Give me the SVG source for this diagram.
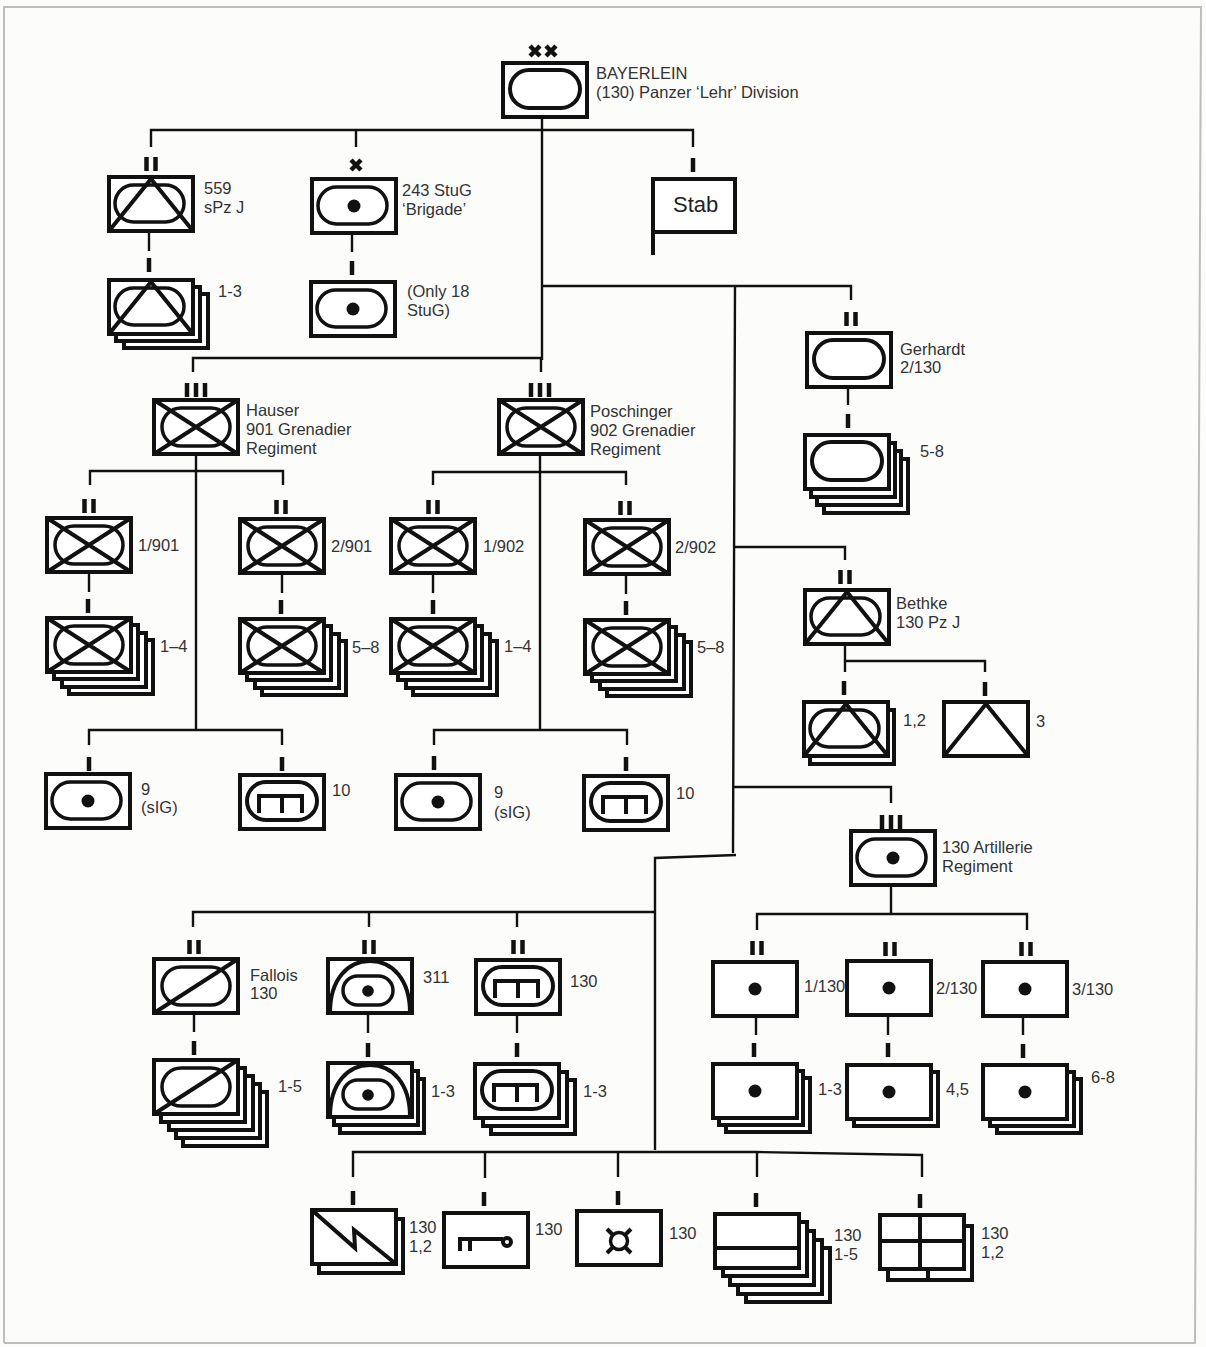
<svg xmlns="http://www.w3.org/2000/svg" width="1206" height="1347" viewBox="0 0 1206 1347">
<style>
.bg{fill:#fcfcfb}
.frame{fill:none;stroke:#bdbdbd;stroke-width:2}
.b{fill:#fff;stroke:#111;stroke-width:4}
.s{fill:none;stroke:#111;stroke-width:4}
.s3{fill:none;stroke:#111;stroke-width:3.5}
.k{fill:#111}
.c{fill:none;stroke:#111;stroke-width:2.4}
.bar{fill:none;stroke:#111;stroke-width:4.5}
text{font-family:"Liberation Sans",Arial,sans-serif;font-size:16.5px;fill:#333}
.stab{font-size:22px;fill:#222}
</style>
<defs>
<rect id="b" class="b" width="84" height="54"/>
<rect id="ov" class="s3" x="6" y="8" width="69" height="37" rx="18.5"/>
<rect id="ovx" class="s3" x="8" y="8" width="68" height="38" rx="19"/>
<rect id="ovb" class="s" x="7" y="7" width="70" height="38" rx="19"/>
<g id="t"><use href="#b"/><path class="s" d="M0 54L42 2L84 54"/></g>
<g id="ot"><use href="#b"/><use href="#ov"/><path class="s" d="M0 54L42 2L84 54"/></g>
<g id="ox"><use href="#b"/><use href="#ovx"/><path class="s" d="M0 0L84 54M0 54L84 0"/></g>
<g id="od"><use href="#b"/><use href="#ov"/><circle class="k" cx="42" cy="27" r="6.5"/></g>
<g id="big"><use href="#b"/><use href="#ovb"/></g>
<g id="d"><use href="#b"/><circle class="k" cx="42" cy="27" r="6.5"/></g>
<g id="m"><use href="#b"/><use href="#ovb"/><path class="s" d="M19 38V21H62V38M42 21V38"/></g>
<g id="f"><use href="#b"/><use href="#ovx"/><path class="s" d="M0 54L84 0"/></g>
<g id="a"><use href="#b"/><path class="s" d="M2 54C2 20 20 2 42 2S82 20 82 54"/><rect class="s3" x="15" y="17" width="50" height="29" rx="14.5"/><circle class="k" cx="40" cy="32" r="5.8"/></g>
<path id="I" class="bar" d="M0 0V14"/>
<path id="II" class="bar" d="M-4.500 0V14M4.500 0V14"/>
<path id="III" class="bar" d="M-9 0V14M0 0V14M9 0V14"/>
<path id="X" class="bar" d="M-5 -5L5 5M-5 5L5 -5"/>
</defs>
<rect class="bg" width="1206" height="1347"/>
<path class="frame" d="M4 1343V7H1201L1195 1343H4"/>
<g id="connectors">
<path class="c" d="M151 147V130H693V147M356 130V147M542 117V360M193 372V358H541V372"/>
<path class="c" d="M149 232V251M352 233V252"/>
<path class="c" d="M542 286H851V300M848 388V405"/>
<path class="c" d="M735 286L733 853M736 855L655 858V1150M193 927V912H655M369 912V927M517 912V927"/>
<path class="c" d="M733 547H845V560M733 787H891V803"/>
<path class="c" d="M845 645V672M845 661H985V672"/>
<path class="c" d="M196 455V730M90 485V471H283V485M89 745V730H282V745"/>
<path class="c" d="M540 456V730M433 485V472H626V485M434 745V730H627V745"/>
<path class="c" d="M89 573V592M282 574V593M433 574V593M626 575V594"/>
<path class="c" d="M891 885V914M757 930V914H1027V930"/>
<path class="c" d="M756 1016V1035M888 1016V1035M1023 1017V1035"/>
<path class="c" d="M194 1014V1032M368 1014V1033M517 1015V1033"/>
<path class="c" d="M353 1177V1152H757L922 1155V1177M485 1152V1178M618 1152V1177M757 1152V1177"/>
<g id="stub-bars">
<use href="#I" x="149" y="258"/><use href="#I" x="352" y="261"/><use href="#I" x="693" y="158"/>
<use href="#I" x="848" y="414"/>
<use href="#I" x="88" y="599"/><use href="#I" x="281" y="600"/><use href="#I" x="433" y="600"/><use href="#I" x="626" y="601"/>
<use href="#I" x="89" y="757"/><use href="#I" x="282" y="757"/><use href="#I" x="434" y="756"/><use href="#I" x="626" y="757"/>
<use href="#I" x="844" y="681"/><use href="#I" x="985" y="682"/>
<use href="#I" x="754" y="1043"/><use href="#I" x="888" y="1043"/><use href="#I" x="1023" y="1044"/>
<use href="#I" x="194" y="1041"/><use href="#I" x="368" y="1043"/><use href="#I" x="517" y="1043"/>
<use href="#I" x="353" y="1191"/><use href="#I" x="484" y="1192"/><use href="#I" x="618" y="1191"/><use href="#I" x="756" y="1193"/><use href="#I" x="920" y="1194"/>
</g>
</g>
<g id="root"><path class="bar" d="M530 46L540 56M530 56L540 46M546 46L556 56M546 56L556 46"/><use href="#big" x="503" y="63"/><text x="596" y="79">BAYERLEIN</text><text x="596" y="98">(130) Panzer ‘Lehr’ Division</text></g>
<g id="n559"><use href="#II" x="151" y="157"/><use href="#ot" x="109" y="177"/><text x="204" y="194">559</text><text x="204" y="213">sPz J</text></g>
<g id="n559c"><use href="#b" x="124" y="294"/><use href="#b" x="116" y="287"/><use href="#ot" x="109" y="280"/><text x="218" y="297">1-3</text></g>
<g id="n243"><use href="#X" x="356" y="165"/><use href="#od" x="312" y="179"/><text x="402" y="196">243 StuG</text><text x="402" y="215">‘Brigade’</text></g>
<g id="n243c"><use href="#od" x="311" y="282"/><text x="407" y="297">(Only 18</text><text x="407" y="316">StuG)</text></g>
<g id="stab"><rect class="b" x="653" y="179" width="82" height="53"/><path class="s" d="M653 232V255"/><text class="stab" x="673" y="212">Stab</text></g>
<g id="gerhardt"><use href="#II" x="851" y="312"/><use href="#big" x="807" y="333"/><text x="900" y="355">Gerhardt</text><text x="900" y="373">2/130</text></g>
<g id="gerhardtc"><use href="#b" x="824" y="459"/><use href="#b" x="817" y="451"/><use href="#b" x="811" y="443"/><use href="#big" x="805" y="435"/><text x="920" y="457">5-8</text></g>
<g id="hauser"><use href="#III" x="196" y="383"/><use href="#ox" x="154" y="400"/><text x="246" y="416">Hauser</text><text x="246" y="435">901 Grenadier</text><text x="246" y="454">Regiment</text></g>
<g id="posch"><use href="#III" x="540" y="383"/><use href="#ox" x="499" y="400"/><text x="590" y="417">Poschinger</text><text x="590" y="436">902 Grenadier</text><text x="590" y="455">Regiment</text></g>
<g id="b1901"><use href="#II" x="89" y="499"/><use href="#ox" x="47" y="518"/><text x="138" y="551">1/901</text></g>
<g id="c1901"><use href="#b" x="69" y="640"/><use href="#b" x="62" y="633"/><use href="#b" x="54" y="625"/><use href="#ox" x="47" y="618"/><text x="160" y="652">1–4</text></g>
<g id="b2901"><use href="#II" x="281" y="500"/><use href="#ox" x="240" y="519"/><text x="331" y="552">2/901</text></g>
<g id="c2901"><use href="#b" x="262" y="641"/><use href="#b" x="255" y="634"/><use href="#b" x="247" y="626"/><use href="#ox" x="240" y="619"/><text x="352" y="653">5–8</text></g>
<g id="b1902"><use href="#II" x="433" y="500"/><use href="#ox" x="391" y="519"/><text x="483" y="552">1/902</text></g>
<g id="c1902"><use href="#b" x="413" y="641"/><use href="#b" x="406" y="634"/><use href="#b" x="398" y="626"/><use href="#ox" x="391" y="619"/><text x="504" y="652">1–4</text></g>
<g id="b2902"><use href="#II" x="625" y="501"/><use href="#ox" x="585" y="520"/><text x="675" y="553">2/902</text></g>
<g id="c2902"><use href="#b" x="607" y="642"/><use href="#b" x="600" y="635"/><use href="#b" x="592" y="627"/><use href="#ox" x="585" y="620"/><text x="697" y="653">5–8</text></g>
<g id="n9a"><use href="#od" x="46" y="774"/><text x="141" y="795">9</text><text x="141" y="813">(sIG)</text></g>
<g id="n10a"><use href="#m" x="240" y="775"/><text x="332" y="796">10</text></g>
<g id="n9b"><use href="#od" x="396" y="775"/><text x="494" y="798">9</text><text x="494" y="818">(sIG)</text></g>
<g id="n10b"><use href="#m" x="584" y="776"/><text x="676" y="799">10</text></g>
<g id="bethke"><use href="#II" x="845" y="570"/><use href="#ot" x="805" y="590"/><text x="896" y="609">Bethke</text><text x="896" y="628">130 Pz J</text></g>
<g id="bethke12"><use href="#b" x="810" y="710"/><use href="#ot" x="804" y="702"/><text x="903" y="726">1,2</text></g>
<g id="bethke3"><use href="#t" x="944" y="702"/><text x="1036" y="727">3</text></g>
<g id="art"><use href="#III" x="891" y="815"/><use href="#od" x="851" y="831"/><text x="942" y="853">130 Artillerie</text><text x="942" y="872">Regiment</text></g>
<g id="a1"><use href="#II" x="757" y="941"/><use href="#d" x="713" y="962"/><text x="804" y="992">1/130</text></g>
<g id="a2"><use href="#II" x="890" y="942"/><use href="#d" x="847" y="961"/><text x="936" y="994">2/130</text></g>
<g id="a3"><use href="#II" x="1026" y="942"/><use href="#d" x="983" y="962"/><text x="1072" y="995">3/130</text></g>
<g id="a1c"><use href="#b" x="726" y="1078"/><use href="#b" x="719" y="1071"/><use href="#d" x="713" y="1064"/><text x="818" y="1095">1-3</text></g>
<g id="a2c"><use href="#b" x="854" y="1072"/><use href="#d" x="847" y="1065"/><text x="946" y="1095">4,5</text></g>
<g id="a3c"><use href="#b" x="997" y="1079"/><use href="#b" x="990" y="1072"/><use href="#d" x="983" y="1065"/><text x="1091" y="1083">6-8</text></g>
<g id="fallois"><use href="#II" x="194" y="940"/><use href="#f" x="154" y="959"/><text x="250" y="981">Fallois</text><text x="250" y="999">130</text></g>
<g id="falloisc"><use href="#b" x="183" y="1092"/><use href="#b" x="176" y="1084"/><use href="#b" x="169" y="1076"/><use href="#b" x="161" y="1068"/><use href="#f" x="154" y="1060"/><text x="278" y="1092">1-5</text></g>
<g id="n311"><use href="#II" x="369" y="940"/><use href="#a" x="328" y="959"/><text x="423" y="983">311</text></g>
<g id="n311c"><use href="#b" x="340" y="1079"/><use href="#b" x="334" y="1071"/><use href="#a" x="328" y="1063"/><text x="431" y="1097">1-3</text></g>
<g id="n130"><use href="#II" x="518" y="940"/><use href="#m" x="476" y="960"/><text x="570" y="987">130</text></g>
<g id="n130c"><use href="#b" x="491" y="1080"/><use href="#b" x="483" y="1072"/><use href="#m" x="475" y="1064"/><text x="583" y="1097">1-3</text></g>
<g id="signal"><use href="#b" x="319" y="1219"/><use href="#b" x="312" y="1210"/><path class="s" d="M313 1211L355 1248L354 1230L396 1264"/><text x="409" y="1233">130</text><text x="409" y="1252">1,2</text></g>
<g id="key"><use href="#b" x="444" y="1213"/><path class="s" d="M460 1251V1239H503M470 1239V1251"/><circle class="s" cx="507" cy="1242" r="4"/><text x="535" y="1235">130</text></g>
<g id="recov"><use href="#b" x="577" y="1211"/><circle class="s3" cx="619" cy="1241" r="8.5"/><path class="s" d="M607 1229L613 1235M631 1229L625 1235M607 1253L613 1247M631 1253L625 1247"/><text x="669" y="1239">130</text></g>
<g id="supply"><use href="#b" x="746" y="1248"/><use href="#b" x="738" y="1240"/><use href="#b" x="730" y="1231"/><use href="#b" x="723" y="1222"/><use href="#b" x="715" y="1214"/><path class="s" d="M715 1248H799"/><text x="834" y="1241">130</text><text x="834" y="1260">1-5</text></g>
<g id="hq"><use href="#b" x="888" y="1226"/><path class="s" d="M928 1260V1280"/><use href="#b" x="880" y="1215"/><path class="s" d="M920 1215V1269M880 1241H964"/><text x="981" y="1239">130</text><text x="981" y="1258">1,2</text></g>
</svg>
